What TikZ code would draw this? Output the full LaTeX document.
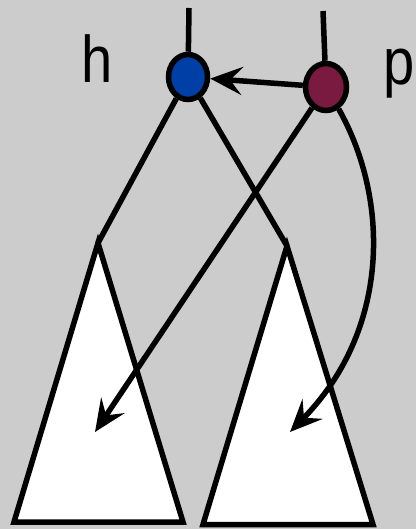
\documentclass[tikz,border=0pt]{standalone}
\usepackage{fontspec}
\setmainfont{Liberation Sans}
\usetikzlibrary{shapes.geometric,arrows.meta}
\definecolor{bg}{RGB}{204,204,204}
\definecolor{hblue}{RGB}{0,64,166}
\definecolor{pmag}{RGB}{122,26,64}
\tikzset{
  wire/.style={line width=5.5pt,draw=black},
  arr/.style={wire,-{Stealth[length=32pt,width=28pt,inset=12pt]}},
  vertex/.style={ellipse,draw=black,line width=5.5pt,inner sep=0pt},
  tri/.style={line width=5.5pt,draw=black,fill=white,line join=miter},
  lbl/.style={anchor=base,inner sep=0pt,font=\fontsize{66}{66}\selectfont,xscale=0.85}
}
\begin{document}
\begin{tikzpicture}[x=1pt,y=-1pt]
  \fill[bg] (0,0) rectangle (416,529);
  \useasboundingbox (0,0) rectangle (416,529);

  % nodes
  \node[vertex,fill=hblue,minimum width=39pt,minimum height=45pt] (h) at (188,77) {};
  \node[vertex,fill=pmag,minimum width=41pt,minimum height=47pt] (p) at (326,87) {};
  \node[lbl] (lh) at (97,83) {h};
  \node[lbl] (lp) at (399,85) {p};

  % end points
  \coordinate (htop) at (189,8);
  \coordinate (ptop) at (323,11);
  \coordinate (la) at (98,243);
  \coordinate (ra) at (287,246);
  \coordinate (lt) at (95,432);
  \coordinate (rt) at (290,432);

  % parent edges
  \draw[wire] (h) -- (htop);
  \draw[wire] (p) -- (ptop);

  % children of h
  \draw[wire] (h) -- (la);
  \draw[wire] (h) -- (ra);

  % subtrees
  \draw[tri] (la) -- (14,522) -- (183,522) -- cycle;
  \draw[tri] (ra) -- (203,524.5) -- (373,524.5) -- cycle;

  % pointers from p
  \draw[arr] (p) -- (h);
  \draw[arr] (p) -- (lt);
  \draw[arr] (p.-60) .. controls (390,200) and (390,330) .. (rt);
\end{tikzpicture}
\end{document}
